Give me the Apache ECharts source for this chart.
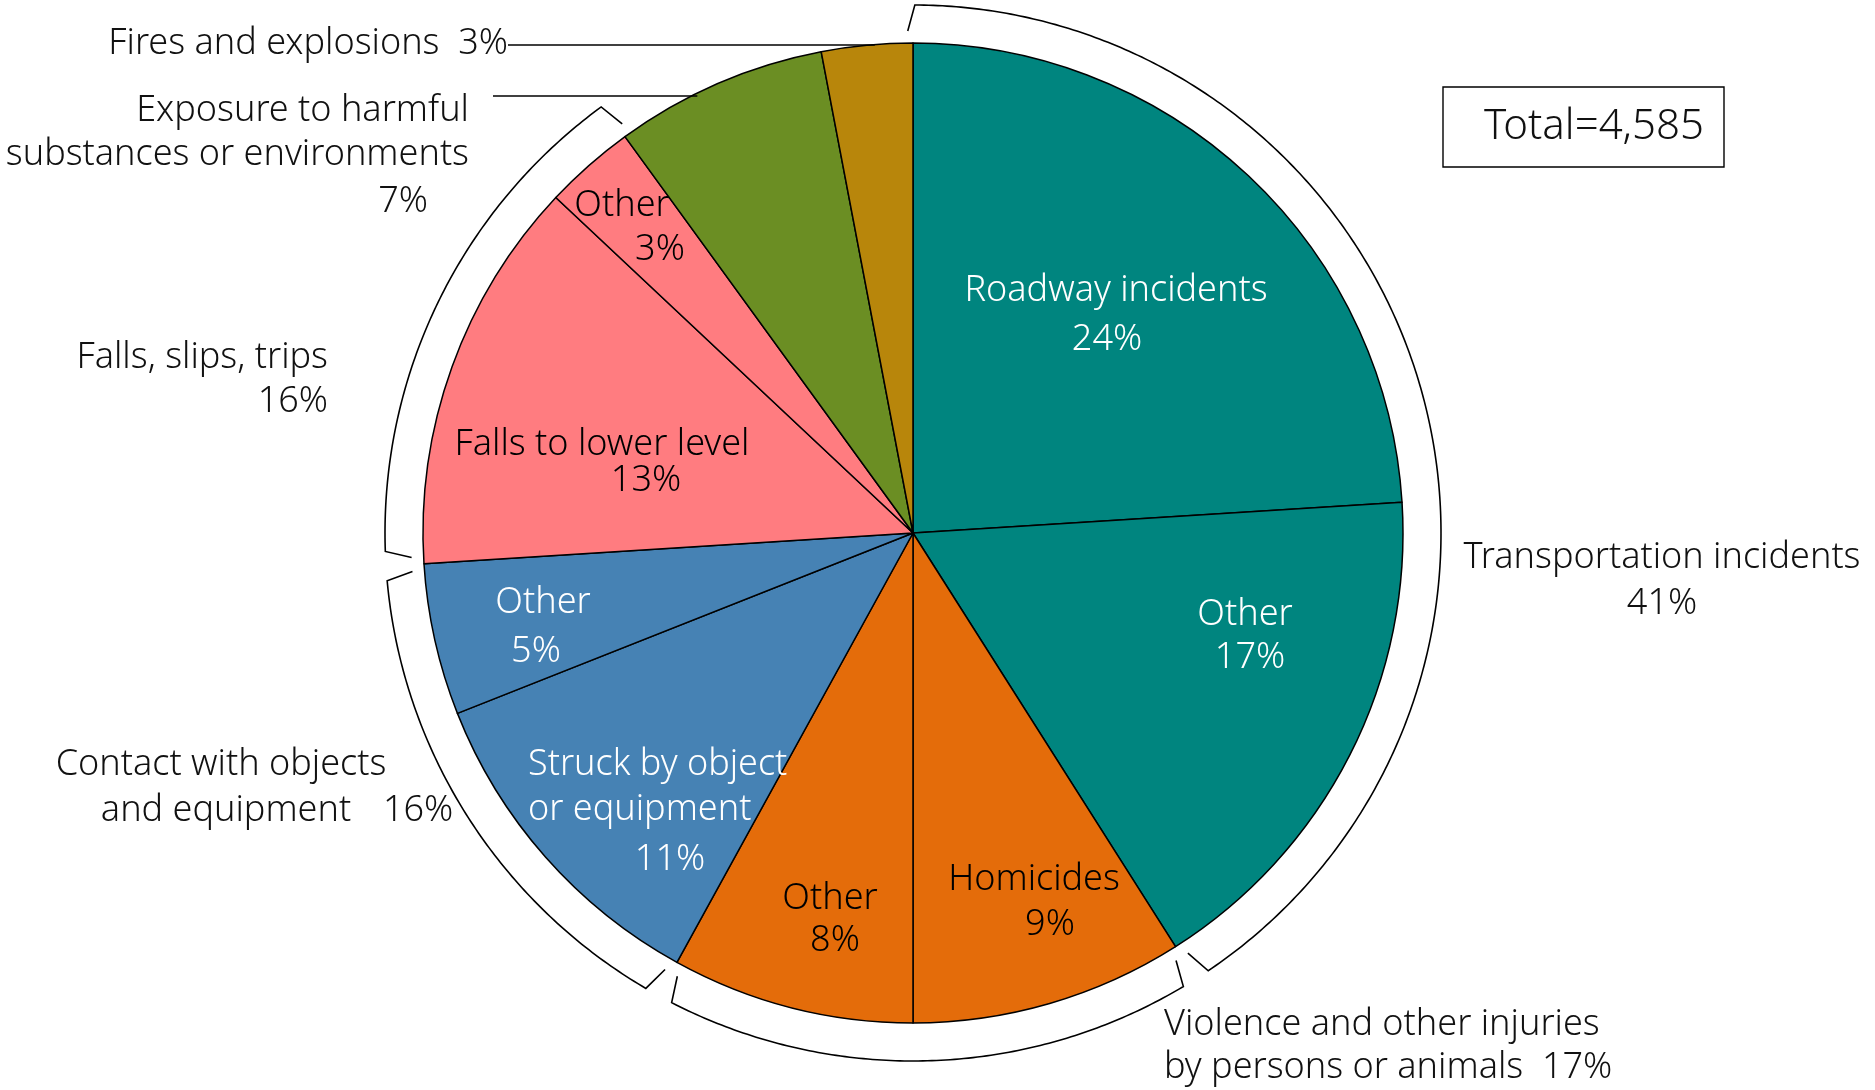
<!DOCTYPE html>
<html>
<head>
<meta charset="utf-8">
<script src="https://cdn.jsdelivr.net/npm/echarts@6/dist/echarts.min.js"></script>
<style>
  html, body { margin: 0; padding: 0; background: #fff; }
  #chart { width: 1875px; height: 1090px; }
</style>
</head>
<body>
<div id="chart"></div>
<script>
// Fatal occupational injuries by event or exposure (percent of total)
const sliceNames = [
  'Roadway incidents', 'Other',            // transportation
  'Homicides', 'Other',                    // violence
  'Struck by object or equipment', 'Other',// contact
  'Falls to lower level', 'Other',         // falls
  'Exposure to harmful substances or environments',
  'Fires and explosions'
];
const slicePct = [24, 17, 9, 8, 11, 5, 13, 3, 7, 3];
const sliceGroup = [0, 0, 1, 1, 2, 2, 3, 3, 4, 5];

const groupNames = [
  'Transportation incidents',
  'Violence and other injuries by persons or animals',
  'Contact with objects and equipment',
  'Falls, slips, trips',
  'Exposure to harmful substances or environments',
  'Fires and explosions'
];
const groupPct = [41, 17, 16, 16, 7, 3];
const groupColors = ['#00857F', '#E46C0A', '#4682B4', '#FF7C80', '#6B8E23', '#B8860B'];
const bracketedGroups = [0, 1, 2, 3];
const totalFatal = 4585;

// ---- geometry of the pie ----
const CX = 913, CY = 533, R = 490;
const FONT = "'Noto Sans', 'Open Sans', sans-serif";
const FS = 36;
const pct = v => v + '%';

// angle measured clockwise from 12 o'clock, in degrees
function polar(deg, r) {
  const a = deg * Math.PI / 180;
  return [CX + r * Math.sin(a), CY - r * Math.cos(a)];
}

const sum = slicePct.reduce((a, b) => a + b, 0);
const sliceStart = [];
let acc = 0;
slicePct.forEach(v => { sliceStart.push(acc / sum * 360); acc += v; });
const sliceEnd = slicePct.map((v, i) => sliceStart[i] + v / sum * 360);

function groupRange(g) {
  const idx = sliceGroup.map((gg, i) => gg === g ? i : -1).filter(i => i >= 0);
  return [sliceStart[idx[0]], sliceEnd[idx[idx.length - 1]]];
}

function text(str, x, y, align, color, size) {
  return {
    type: 'text', silent: true, z: 10,
    style: {
      text: str, x: x, y: y, fill: color,
      fontFamily: FONT, fontSize: size || FS, fontWeight: 300,
      align: align, verticalAlign: 'middle',
      textAlign: align, textVerticalAlign: 'middle'
    }
  };
}

const graphics = [];

// group brackets outside the pie
const BR = 528, BR_IN = 502, GAP = 1.6, FLARE = 0.8;
bracketedGroups.forEach((g, k) => {
  const [a0, a1] = groupRange(g);
  const s = a0 + (k > 0 ? GAP : 0.2);
  const e = a1 - (k < bracketedGroups.length - 1 ? GAP : 0.2);
  const pts = [polar(s - FLARE, BR_IN)];
  const n = Math.max(2, Math.ceil((e - s) / 0.5));
  for (let i = 0; i <= n; i++) pts.push(polar(s + (e - s) * i / n, BR));
  pts.push(polar(e + FLARE, BR_IN));
  graphics.push({
    type: 'polyline', silent: true,
    shape: { points: pts },
    style: { stroke: '#000', lineWidth: 1.6, fill: null }
  });
});

// labels inside the slices
const innerLabels = [
  { i: 0, color: '#fff', lines: [['Roadway incidents', 1116, 291, 'center'], ['{p}', 1107, 340, 'center']] },
  { i: 1, color: '#fff', lines: [['Other', 1245, 615, 'center'], ['{p}', 1250, 658, 'center']] },
  { i: 2, color: '#000', lines: [['Homicides', 1034, 880, 'center'], ['{p}', 1050, 925, 'center']] },
  { i: 3, color: '#000', lines: [['Other', 830, 899, 'center'], ['{p}', 835, 941, 'center']] },
  { i: 4, color: '#fff', lines: [['Struck by object', 528, 765, 'left'], ['or equipment', 528, 810, 'left'], ['{p}', 670, 860, 'center']] },
  { i: 5, color: '#fff', lines: [['Other', 543, 603, 'center'], ['{p}', 536, 652, 'center']] },
  { i: 6, color: '#000', lines: [['Falls to lower level', 602, 445, 'center'], ['{p}', 646, 481, 'center']] },
  { i: 7, color: '#000', lines: [['Other', 622, 206, 'center'], ['{p}', 660, 250, 'center']] }
];
innerLabels.forEach(l => {
  l.lines.forEach(([t, x, y, al]) => {
    graphics.push(text(t.replace('{p}', pct(slicePct[l.i])), x, y, al, l.color));
  });
});

// group labels around the pie
const outerLabels = [
  { g: 0, lines: [['Transportation incidents', 1662, 558, 'center'], ['{p}', 1662, 604, 'center']] },
  { g: 1, lines: [['Violence and other injuries', 1164, 1025, 'left'], ['by persons or animals  {p}', 1164, 1068, 'left']] },
  { g: 2, lines: [['Contact with objects', 221, 765, 'center'], ['and equipment', 226, 811, 'center'], ['{p}', 383, 811, 'left']] },
  { g: 3, lines: [['Falls, slips, trips', 328, 358, 'right'], ['{p}', 328, 402, 'right']] },
  { g: 4, lines: [['Exposure to harmful', 469, 111, 'right'], ['substances or environments', 469, 155, 'right'], ['{p}', 428, 202, 'right']] },
  { g: 5, lines: [['Fires and explosions  {p}', 508, 44, 'right']] }
];
outerLabels.forEach(l => {
  l.lines.forEach(([t, x, y, al]) => {
    graphics.push(text(t.replace('{p}', pct(groupPct[l.g])), x, y, al, '#111'));
  });
});

// leader lines from the small-group labels to the pie edge
const leaders = [{ x: 508, y: 45 }, { x: 493, y: 96 }];
leaders.forEach(ld => {
  const dy = CY - ld.y;
  const xEdge = CX - Math.sqrt(R * R - dy * dy) + 6;
  graphics.push({
    type: 'line', silent: true, z: 5,
    shape: { x1: ld.x, y1: ld.y, x2: xEdge, y2: ld.y },
    style: { stroke: '#000', lineWidth: 1.6 }
  });
});

// total box
graphics.push({
  type: 'rect', silent: true,
  shape: { x: 1443, y: 87, width: 281, height: 80 },
  style: { fill: '#fff', stroke: '#000', lineWidth: 1.4 }
});
graphics.push(text('Total=' + totalFatal.toLocaleString('en-US'), 1594, 127, 'center', '#111', 42));

const chart = echarts.init(document.getElementById('chart'), null, { renderer: 'canvas' });
chart.setOption({
  animation: false,
  backgroundColor: '#fff',
  series: [{
    type: 'pie',
    center: [CX, CY],
    radius: R,
    startAngle: 90,
    clockwise: true,
    avoidLabelOverlap: false,
    silent: true,
    label: { show: false },
    labelLine: { show: false },
    emphasis: { disabled: true },
    itemStyle: { borderColor: '#000', borderWidth: 1.5 },
    data: slicePct.map((v, i) => ({
      name: sliceNames[i],
      value: v,
      itemStyle: { color: groupColors[sliceGroup[i]] }
    }))
  }],
  graphic: graphics
});
</script>
</body>
</html>
